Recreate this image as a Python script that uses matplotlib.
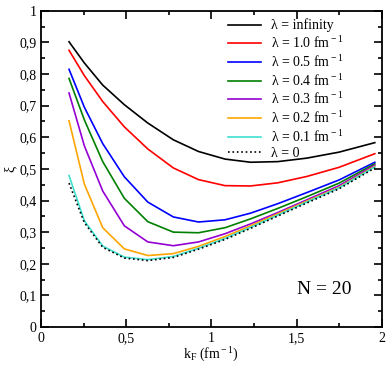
import matplotlib
matplotlib.use("Agg")
import matplotlib.pyplot as plt
from matplotlib.ticker import MultipleLocator, FuncFormatter

plt.rcParams['font.family'] = ['Liberation Serif', 'DejaVu Serif']
plt.rcParams['mathtext.fontset'] = 'custom'
plt.rcParams['mathtext.rm'] = 'Liberation Serif'
plt.rcParams['mathtext.it'] = 'Liberation Serif:italic'

# Fermi momentum grid (fm^-1)
kf = [0.163, 0.253, 0.361, 0.488, 0.626, 0.776, 0.924, 1.08, 1.23, 1.39, 1.56, 1.75, 1.96]

# xi for each lambda
xi_inf = [0.902, 0.835, 0.765, 0.703, 0.645, 0.592, 0.555, 0.531, 0.521, 0.523, 0.534, 0.553, 0.583]
xi_10 = [0.875, 0.795, 0.713, 0.633, 0.563, 0.503, 0.466, 0.447, 0.446, 0.456, 0.476, 0.505, 0.548]
xi_05 = [0.815, 0.695, 0.58, 0.475, 0.395, 0.348, 0.332, 0.339, 0.36, 0.39, 0.425, 0.465, 0.521]
xi_04 = [0.786, 0.655, 0.523, 0.407, 0.333, 0.30, 0.298, 0.314, 0.342, 0.375, 0.412, 0.455, 0.516]
xi_03 = [0.74, 0.573, 0.43, 0.32, 0.269, 0.257, 0.269, 0.295, 0.326, 0.362, 0.402, 0.447, 0.512]
xi_02 = [0.652, 0.452, 0.314, 0.247, 0.226, 0.232, 0.255, 0.286, 0.32, 0.358, 0.398, 0.442, 0.508]
xi_01 = [0.479, 0.336, 0.256, 0.221, 0.213, 0.223, 0.249, 0.28, 0.315, 0.354, 0.395, 0.44, 0.506]
xi_0 = [0.455, 0.33, 0.252, 0.218, 0.21, 0.22, 0.246, 0.277, 0.312, 0.351, 0.392, 0.437, 0.503]

series = [
    (xi_inf, 'black', '-', 'λ = infinity'),
    (xi_10, 'red', '-', r'λ = 1.0 fm$^{\rm -1}$'),
    (xi_05, 'blue', '-', r'λ = 0.5 fm$^{\rm -1}$'),
    (xi_04, 'green', '-', r'λ = 0.4 fm$^{\rm -1}$'),
    (xi_03, 'darkviolet', '-', r'λ = 0.3 fm$^{\rm -1}$'),
    (xi_02, 'orange', '-', r'λ = 0.2 fm$^{\rm -1}$'),
    (xi_01, 'turquoise', '-', r'λ = 0.1 fm$^{\rm -1}$'),
    (xi_0, 'black', ':', 'λ = 0'),
]

fig = plt.figure(figsize=(3.91, 3.72), dpi=100)
ax = fig.add_axes([0.1056, 0.121, 0.8704, 0.850])

for ys, c, ls, lab in series:
    ax.plot(kf, ys, color=c, ls=ls, lw=1.2, label=lab)

ax.set_xlim(0, 2)
ax.set_ylim(0, 1)
ax.xaxis.set_major_locator(MultipleLocator(0.5))
ax.xaxis.set_minor_locator(MultipleLocator(0.25))
ax.yaxis.set_major_locator(MultipleLocator(0.1))
ax.yaxis.set_minor_locator(MultipleLocator(0.05))

def comma(v, pos):
    s = ('%.2f' % v).rstrip('0').rstrip('.')
    return s.replace('.', ',')

ax.xaxis.set_major_formatter(FuncFormatter(comma))
ax.yaxis.set_major_formatter(FuncFormatter(comma))
ax.tick_params(which='both', direction='in', top=True, right=True, labelsize=10, width=1.2)
ax.tick_params(which='major', length=6)
ax.tick_params(which='minor', length=3)
for s in ax.spines.values():
    s.set_linewidth(1.3)

ax.set_xlabel(r'k$_{\rm F}$ (fm$^{\rm -1}$)', fontsize=10, labelpad=1)
ax.set_ylabel('ξ', fontsize=10, labelpad=2)

ax.legend(loc='upper left', frameon=False, fontsize=10, handlelength=2.4,
          handletextpad=0.7, borderpad=0, borderaxespad=0,
          labelspacing=0.2, bbox_to_anchor=(0.549, 0.975))
ax.text(1.663, 0.12, 'N = 20', fontsize=14, ha='center', va='center')

fig.savefig('out.png', dpi=100)
